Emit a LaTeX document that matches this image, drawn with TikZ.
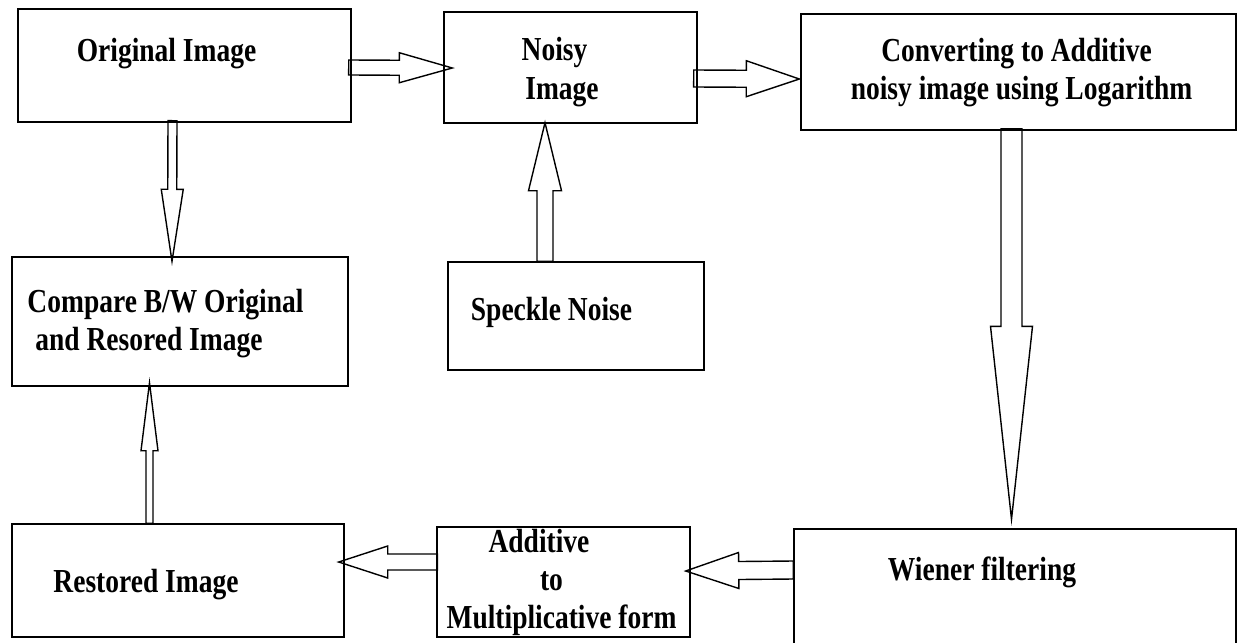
\documentclass[tikz,border=0pt]{standalone}
\usepackage{fontspec}
\setmainfont{Liberation Serif}
\usetikzlibrary{calc}
\newcommand\sy[1]{\scalebox{1}[1.22]{#1}}
% #1 from, #2 to, #3 shaft half width, #4 head half width, #5 head length
\newcommand\blockarrow[5]{%
  \coordinate (ba-s) at (#1);
  \coordinate (ba-t) at (#2);
  \coordinate (ba-h) at ($(ba-t)!#5!(ba-s)$);
  \draw[barrow] ($(ba-s)!#3!90:(ba-t)$) -- ($(ba-h)!#3!-90:(ba-s)$)
    -- ($(ba-h)!#4!-90:(ba-s)$) -- (ba-t) -- ($(ba-h)!#4!90:(ba-s)$)
    -- ($(ba-h)!#3!90:(ba-s)$) -- ($(ba-s)!#3!-90:(ba-t)$) -- cycle;
}
\begin{document}
\begin{tikzpicture}[x=1pt,y=-1pt,
  box/.style={draw=black, line width=1.4pt, inner sep=0pt},
  barrow/.style={draw=black, line width=1.4pt, line join=miter},
  txt/.style={anchor=base, inner sep=0pt, font=\fontsize{27.5}{33}\selectfont\bfseries}]
\useasboundingbox (0,0) rectangle (1238,642);
\clip (0,0) rectangle (1238,642);
% boxes
\node[box, minimum width=333pt, minimum height=113pt] (orig)  at (184.5,65.5) {};
\node[box, minimum width=253pt, minimum height=111pt] (noisy) at (570.5,67.5) {};
\node[box, minimum width=435pt, minimum height=116pt] (conv)  at (1018.5,72) {};
\node[box, minimum width=336pt, minimum height=129pt] (comp)  at (180,321.5) {};
\node[box, minimum width=256pt, minimum height=108pt] (speck) at (576,316) {};
\node[box, minimum width=442pt, minimum height=121pt] (wien)  at (1015,589.5) {};
\node[box, minimum width=253pt, minimum height=110pt] (addit) at (563.5,582) {};
\node[box, minimum width=332pt, minimum height=113pt] (rest)  at (178,580.5) {};
% texts
\node[txt] (t-orig) at (166.5,61) {\sy{Original Image}};
\node[txt] (t-noisy1) at (554.5,60) {\sy{Noisy}};
\node[txt] (t-noisy2) at (562,99) {\sy{Image}};
\node[txt] (t-conv1) at (1016.5,61) {\sy{Converting to Additive}};
\node[txt] (t-conv2) at (1021.5,99) {\sy{noisy image using Logarithm}};
\node[txt] (t-comp1) at (165.5,312) {\sy{Compare B/W Original}};
\node[txt] (t-comp2) at (149,350) {\sy{and Resored Image}};
\node[txt] (t-speck) at (551.5,320) {\sy{Speckle Noise}};
\node[txt] (t-wien) at (982,580) {\sy{Wiener filtering}};
\node[txt] (t-add1) at (539,552) {\sy{Additive}};
\node[txt] (t-add2) at (551.5,590) {\sy{to}};
\node[txt] (t-add3) at (561.5,628) {\sy{Multiplicative form}};
\node[txt] (t-rest) at (146,592) {\sy{Restored Image}};
% block arrows
\blockarrow{$(orig.east)+(-3,2)$}{$(noisy.west)+(9,0.5)$}{7.5pt}{15pt}{53pt}
\blockarrow{$(noisy.east)+(-4,11)$}{$(conv.west)+(-1,7)$}{8.5pt}{18pt}{53pt}
\blockarrow{$(orig.south)+(-12,-2)$}{$(comp.north)+(-8,5)$}{4.5pt}{11pt}{72pt}
\blockarrow{$(speck.north)+(-31,0)$}{$(noisy.south)+(-25.5,-1)$}{8pt}{16.5pt}{68pt}
\blockarrow{$(conv.south)+(-7,-2)$}{$(wien.north)+(-3.5,-9)$}{10.5pt}{21pt}{193pt}
\blockarrow{$(wien.west)+(0,-19.5)$}{$(addit.east)+(-5,-11)$}{9pt}{18pt}{53pt}
\blockarrow{$(addit.west)+(1,-20)$}{$(rest.east)+(-6,-18.5)$}{8pt}{16pt}{49pt}
\blockarrow{$(rest.north)+(-28.5,0)$}{$(comp.south)+(-30.5,-4)$}{3.5pt}{8.5pt}{68pt}
\end{tikzpicture}
\end{document}
